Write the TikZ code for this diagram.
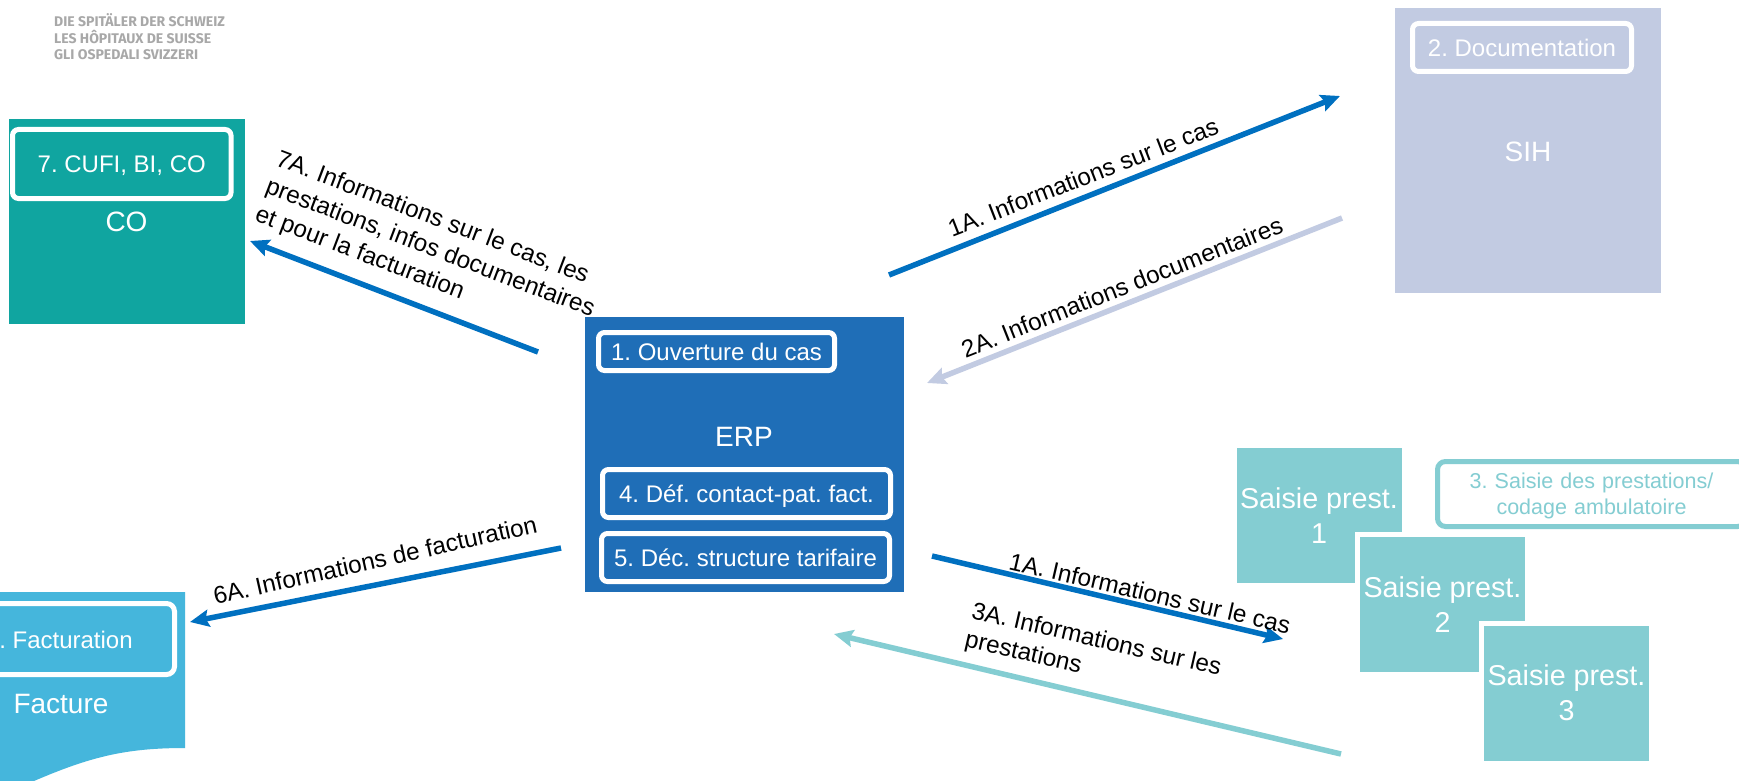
\documentclass[tikz,border=0pt]{standalone}
\usepackage{fontspec}
\setmainfont{Liberation Sans}
\newfontfamily\logofont{Fira Sans}
\usetikzlibrary{arrows.meta}
\definecolor{cCO}{HTML}{10A5A0}
\definecolor{cERP}{HTML}{1F6EB7}
\definecolor{cSIH}{HTML}{C2CBE2}
\definecolor{cFAC}{HTML}{45B6DC}
\definecolor{cSAI}{HTML}{84CDD2}
\definecolor{cARR}{HTML}{0070C0}
\definecolor{cLOG}{HTML}{A8A8A8}
\newcommand{\fs}[1]{\fontsize{#1}{#1}\selectfont}
\frenchspacing
\tikzset{
 inbox/.style={draw=white,line width=5pt,rounded corners=6pt,inner sep=0pt,outer sep=0pt,text=white,font=\fs{24},align=center,text height=17.2pt,text depth=0pt},
 sysname/.style={text=white,font=\fs{28},inner sep=0pt},
 saisie/.style={fill=cSAI,draw=white,line width=5pt,inner sep=0pt,outer sep=0pt,text=white,align=center,font=\fontsize{28.7}{35}\selectfont,minimum width=170pt,minimum height=140pt},
 flow/.style={line width=5.5pt,-{Stealth[length=19pt,width=17pt,inset=3pt]}},
 lab/.style={text=black,font=\fontsize{24.3}{29.5}\selectfont,inner sep=0pt,align=left},
 logo/.style={text=cLOG,font=\logofont\bfseries\fs{14},inner sep=0pt,anchor=west}
}
\begin{document}
\begin{tikzpicture}[x=1pt,y=-1pt]
\useasboundingbox (0,0) rectangle (1739,781);
\clip (0,0) rectangle (1739,781);
\fill[white] (0,0) rectangle (1739,781);
% logo
\node[logo] (l1) at (54,20) {DIE SPITÄLER DER SCHWEIZ};
\node[logo] (l2) at (54,37) {LES HÔPITAUX DE SUISSE};
\node[logo] (l3) at (54,55) {GLI OSPEDALI SVIZZERI};
% CO
\node[fill=cCO,inner sep=0pt,minimum width=236pt,minimum height=205pt] (co) at (127,221.5) {};
\node[inbox,minimum width=218.5pt,minimum height=69pt] (t7) at (121.75,164) {7. CUFI, BI, CO};
\node[sysname] (coname) at (126.5,222) {CO};
% SIH
\node[fill=cSIH,inner sep=0pt,minimum width=266pt,minimum height=285pt] (sih) at (1528,150.5) {};
\node[inbox,minimum width=219pt,minimum height=48pt] (t2) at (1522,47.5) {2. Documentation};
\node[sysname] (sihname) at (1528,152) {SIH};
% ERP
\node[fill=cERP,inner sep=0pt,minimum width=319pt,minimum height=275pt] (erp) at (744.5,454.5) {};
\node[inbox,minimum width=236pt,minimum height=38pt] (t1) at (716.5,351.5) {1. Ouverture du cas};
\node[sysname] (erpname) at (744,437) {ERP};
\node[inbox,minimum width=288pt,minimum height=48pt] (t4) at (746.5,493.5) {4. Déf. contact-pat. fact.};
\node[inbox,minimum width=288pt,minimum height=48pt] (t5) at (745.5,557.5) {5. Déc. structure tarifaire};
% Facture
\fill[cFAC] (-10,592) -- (185,592) -- (185,748) .. controls (125,748) and (90,757) .. (34,781) -- (-10,795) -- cycle;
\draw[draw=white,line width=5pt,rounded corners=8pt] (-30,603.5) rectangle (174.5,674.5);
\node[text=white,font=\fs{24},inner sep=0pt] (t6) at (66,640) {. Facturation};
\node[sysname] (facname) at (61,704) {Facture};
% Saisie
\node[saisie] (s1) at (1319,515) {\rule{0pt}{21pt}Saisie prest.\\1};
\node[saisie] (s2) at (1442.5,604) {\rule{0pt}{21pt}Saisie prest.\\2};
\node[saisie] (s3) at (1566.5,693) {\rule{0pt}{21pt}Saisie prest.\\3};
\node[draw=cSAI,line width=5pt,rounded corners=8pt,inner sep=0pt,outer sep=0pt,text=cSAI,align=center,font=\fontsize{21.5}{26}\selectfont,minimum width=308pt,minimum height=65pt,text width=308pt] (t3) at (1591.5,494) {\rule{0pt}{20pt}3. Saisie des prestations/\\codage ambulatoire};
% connectors
\coordinate (a1s) at (889,275); \coordinate (a1e) at (1340,96);
\coordinate (a2s) at (1342,218); \coordinate (a2e) at (927,383);
\coordinate (a7s) at (538,352); \coordinate (a7e) at (250,241);
\coordinate (a6s) at (561,548); \coordinate (a6e) at (190,622);
\coordinate (a1bs) at (932,556); \coordinate (a1be) at (1283,639);
\coordinate (a3s) at (1341,754); \coordinate (a3e) at (834,634);
\draw[flow,cARR] (a1s) -- (a1e);
\draw[flow,cSIH] (a2s) -- (a2e);
\draw[flow,cARR] (a7s) -- (a7e);
\draw[flow,cARR] (a6s) -- (a6e);
\draw[flow,cARR] (a1bs) -- (a1be);
\draw[flow,cSAI] (a3s) -- (a3e);
% labels
\node[lab,rotate=21.2] (n1) at (1083,177) {1A. Informations sur le cas};
\node[lab,rotate=21.6] (n2) at (1122,287) {2A. Informations documentaires};
\node[lab,rotate=-20.8] (n7) at (430,249) {7A. Informations sur le cas, les\\prestations, infos documentaires\\et pour la facturation};
\node[lab,rotate=12.7] (n6) at (375,560) {6A. Informations de facturation};
\node[lab,rotate=-13] (n1b) at (1150,593) {1A. Informations sur le cas};
\node[lab,rotate=-13] (n3) at (1093,655) {3A. Informations sur les\\prestations};
\end{tikzpicture}
\end{document}
